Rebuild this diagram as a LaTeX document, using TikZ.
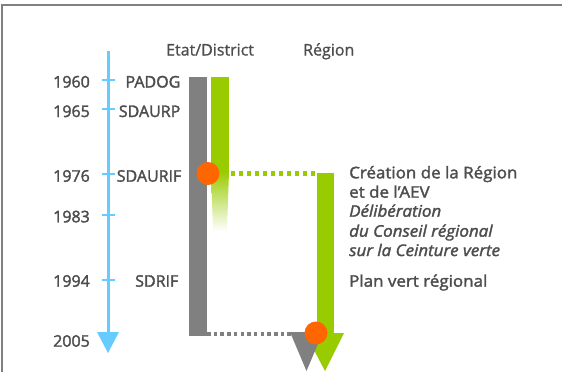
\documentclass[tikz,border=0pt]{standalone}
\usepackage{fontspec}
\setmainfont{Open Sans}
\newfontfamily\headfont[FakeBold=1]{Open Sans}
\newfontfamily\semifont[FakeBold=2]{Open Sans}
\newfontfamily\widefont[FakeBold=2,FakeStretch=1.06]{Open Sans}
\definecolor{tgray}{HTML}{4D4D4D}
\definecolor{bgray}{HTML}{808080}
\definecolor{lgreen}{HTML}{99CC00}
\definecolor{lblue}{HTML}{66CCFF}
\definecolor{orng}{HTML}{FF6600}
\begin{document}
\begin{tikzpicture}[x=1pt,y=-1pt,
  txt/.style={text=tgray, font=\semifont\fontsize{16}{19}\selectfont, inner sep=0pt},
  yearlab/.style={txt, anchor=base east},
  planlab/.style={txt, anchor=base east},
  rtxt/.style={txt, font=\widefont\fontsize{16}{19}\selectfont, anchor=base west},
  rit/.style={rtxt, font=\widefont\fontsize{16}{19}\selectfont\itshape},
  head/.style={txt, font=\headfont\fontsize{16}{19}\selectfont, anchor=base west},
  tick/.style={lblue, line width=2pt},
  odot/.style={circle, fill=orng, minimum size=23pt, inner sep=0pt},
  gdots/.style={lgreen, line width=4.2pt, dash pattern=on 4pt off 4pt},
  ydots/.style={bgray, line width=3.7pt, dash pattern=on 3.5pt off 3.2pt}]
\useasboundingbox (0,0) rectangle (562,372);
% frame
\draw[bgray, line width=2pt] (2,372) -- (2,4.8) -- (562,4.8);
% headers
\node[head] (hetat) at (166,55.5) {Etat/District};
\node[head] (hreg) at (303,55.5) {Région};
% time axis
\coordinate (atop) at (108,51);
\coordinate (abot) at (108,334);
\draw[lblue, line width=3pt] (atop) -- (abot);
\fill[lblue] (97,332) -- (119,332) -- (108,353) -- cycle;
\foreach \y in {79.5,108.5,173.5,214.5,279.5}{
  \draw[tick] (101.5,\y) -- (114.5,\y);
}
% years
\node[yearlab] (y1960) at (90,87.5) {1960};
\node[yearlab] (y1965) at (90,117) {1965};
\node[yearlab] (y1976) at (90,181.7) {1976};
\node[yearlab] (y1983) at (90,222.3) {1983};
\node[yearlab] (y1994) at (90,286.7) {1994};
\node[yearlab] (y2005) at (90,346.7) {2005};
% plans
\node[planlab] (padog) at (180.5,87.5) {PADOG};
\node[planlab] (sdaurp) at (180.5,117) {SDAURP};
\node[planlab] (sdaurif) at (181.5,181.7) {SDAURIF};
\node[planlab] (sdrif) at (178.5,286.7) {SDRIF};
% dotted links
\coordinate (g0) at (231,173.5);
\coordinate (g1) at (318,173.5);
\draw[gdots] (g0) -- (g1);
\coordinate (d0) at (207,334.2);
\coordinate (d1) at (294,334.2);
\draw[ydots] (d0) -- (d1);
% Etat bar (gray)
\fill[bgray] (189,77) rectangle (206.5,336);
% Etat green bar with fade
\fill[lgreen] (211,77) rectangle (229,172);
\shade[top color=lgreen, bottom color=white] (211,171.5) -- (229,171.5) -- (227,231) -- (213,231) -- cycle;
% Region green arrow
\fill[lgreen] (317,173) rectangle (333.5,334);
\fill[lgreen] (305,333) -- (344,333) -- (325,371) -- cycle;
% gray arrow head
\fill[bgray] (290,332) -- (323,332) -- (306.5,371) -- cycle;
% orange markers
\node[odot] (c1) at (208,173.5) {};
\node[odot] (c2) at (316,333) {};
% right texts
\node[rtxt] (t1) at (349,178.3) {Création de la Région};
\node[rtxt] (t2) at (349,197.7) {et de l’AEV};
\node[rit] (t3) at (349,216.7) {Délibération};
\node[rit] (t4) at (349,236.7) {du Conseil régional};
\node[rit] (t5) at (349,256) {sur la Ceinture verte};
\node[rtxt] (t6) at (349,286.7) {Plan vert régional};
\end{tikzpicture}
\end{document}
